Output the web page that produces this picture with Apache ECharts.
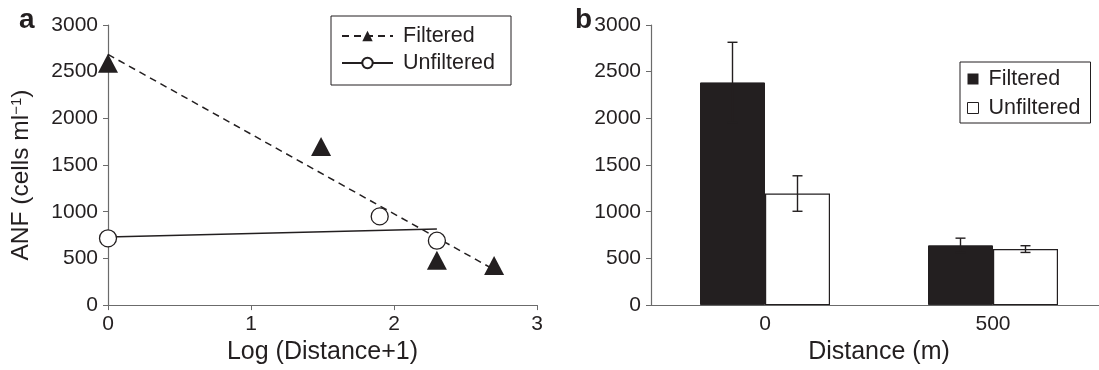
<!DOCTYPE html>
<html>
<head>
<meta charset="utf-8">
<script src="https://cdn.jsdelivr.net/npm/echarts@6/dist/echarts.min.js"></script>
<style>
  html, body { margin: 0; padding: 0; background: #fff; overflow: hidden; }
  /* a bit wider than the window: the right axis runs off the edge, as in the figure */
  #chart { width: 1110px; height: 370px; }
</style>
</head>
<body>
<div id="chart"></div>
<script>
  // panel a: ANF vs log(distance+1)
  const filteredX = [0, 1.49, 2.3, 2.7];
  const filteredY = [2590, 1700, 480, 425];
  const unfilteredX = [0, 1.9, 2.3];
  const unfilteredY = [715, 950, 690];
  // fitted lines, end points
  const filteredTrend = [[0, 2685], [2.7, 380]];
  const unfilteredTrend = [[0, 730], [2.3, 815]];

  // panel b: mean +/- error by distance
  const distances = ['0', '500'];
  const filteredMean = [2385, 640];
  const filteredErr = [430, 77];
  const unfilteredMean = [1195, 600];
  const unfilteredErr = [190, 36];

  const ink = '#231f20';
  const axisGrey = '#6b6b6b';
  const font = '"Liberation Sans", Arial, Helvetica, sans-serif';
  const barWidth = 65;

  const myChart = echarts.init(document.getElementById('chart'));

  function valueAxis(gridIndex, extra) {
    return Object.assign({
      type: 'value',
      gridIndex: gridIndex,
      min: 0,
      max: 3000,
      interval: 500,
      splitLine: { show: false },
      axisLine: { show: true, lineStyle: { color: axisGrey, width: 1.2 } },
      axisTick: { show: true, length: 5, lineStyle: { color: axisGrey } },
      axisLabel: { color: ink, fontSize: 21, fontFamily: font, margin: 10, formatter: v => String(v) }
    }, extra || {});
  }

  // error bars drawn next to each bar
  function errorBars(means, errs, side) {
    return {
      type: 'custom',
      xAxisIndex: 1,
      yAxisIndex: 1,
      z: 5,
      data: means.map((m, i) => [i, m - errs[i], m + errs[i]]),
      renderItem: (params, api) => {
        const lo = api.coord([api.value(0), api.value(1)]);
        const hi = api.coord([api.value(0), api.value(2)]);
        const x = lo[0] + side * barWidth / 2;
        const cap = 5;
        const style = { stroke: ink, lineWidth: 1.4 };
        return {
          type: 'group',
          children: [
            { type: 'line', shape: { x1: x, y1: hi[1], x2: x, y2: lo[1] }, style: style },
            { type: 'line', shape: { x1: x - cap, y1: hi[1], x2: x + cap, y2: hi[1] }, style: style },
            { type: 'line', shape: { x1: x - cap, y1: lo[1], x2: x + cap, y2: lo[1] }, style: style }
          ]
        };
      }
    };
  }

  const option = {
    animation: false,
    textStyle: { fontFamily: font, color: ink },
    title: [
      { text: 'a', left: 14, top: 1, textStyle: { fontSize: 28, fontWeight: 'bold', color: ink, fontFamily: font } },
      { text: 'b', left: 570, top: 1, textStyle: { fontSize: 28, fontWeight: 'bold', color: ink, fontFamily: font } }
    ],
    legend: [
      {
        orient: 'vertical',
        left: 331,
        top: 16,
        padding: [9, 16, 11, 10],
        itemGap: 5,
        itemWidth: 51,
        itemHeight: 13,
        borderColor: ink,
        borderWidth: 1,
        textStyle: { fontSize: 21.5, color: ink, fontFamily: font, padding: [0, 0, 0, 5] },
        data: ['Filtered', 'Unfiltered']
      },
      {
        orient: 'vertical',
        left: 960,
        top: 62,
        padding: [6, 10, 4, 7],
        itemGap: 7,
        itemWidth: 11,
        itemHeight: 11,
        borderColor: ink,
        borderWidth: 1,
        textStyle: { fontSize: 21.5, color: ink, fontFamily: font, padding: [0, 0, 0, 5] },
        data: [
          { name: 'Filtered', icon: 'rect', itemStyle: { color: ink, borderWidth: 0 } },
          { name: 'Unfiltered', icon: 'rect', itemStyle: { color: '#fff', borderColor: ink, borderWidth: 1 } }
        ]
      }
    ],
    grid: [
      { left: 108, top: 25, width: 429, height: 283 },
      { left: 651, top: 25, width: 456, height: 283 }
    ],
    xAxis: [
      {
        type: 'value',
        gridIndex: 0,
        min: 0,
        max: 3,
        interval: 1,
        name: 'Log (Distance+1)',
        nameLocation: 'middle',
        nameGap: 33,
        nameTextStyle: { fontSize: 25, color: ink, fontFamily: font },
        splitLine: { show: false },
        axisLine: { lineStyle: { color: axisGrey, width: 1.2 } },
        axisTick: { length: 5, lineStyle: { color: axisGrey } },
        axisLabel: { color: ink, fontSize: 21, fontFamily: font, margin: 9 }
      },
      {
        type: 'category',
        gridIndex: 1,
        data: distances,
        name: 'Distance (m)',
        nameLocation: 'middle',
        nameGap: 33,
        nameTextStyle: { fontSize: 25, color: ink, fontFamily: font },
        axisLine: { lineStyle: { color: axisGrey, width: 1.2 } },
        axisTick: { length: 5, lineStyle: { color: axisGrey } },
        axisLabel: { color: ink, fontSize: 21, fontFamily: font, margin: 9 }
      }
    ],
    yAxis: [
      valueAxis(0, {
        name: 'ANF (cells ml{sup|−1})',
        nameLocation: 'middle',
        nameRotate: 90,
        nameGap: 74,
        nameTextStyle: {
          fontSize: 24.5,
          color: ink,
          fontFamily: font,
          padding: [0, 20, 0, 0],
          rich: { sup: { fontSize: 15, verticalAlign: 'top', color: ink, fontFamily: font } }
        }
      }),
      valueAxis(1)
    ],
    series: [
      {
        name: 'Filtered',
        type: 'line',
        xAxisIndex: 0,
        yAxisIndex: 0,
        data: filteredTrend,
        symbol: 'triangle',
        showSymbol: false,
        silent: true,
        itemStyle: { color: ink },
        lineStyle: { color: ink, width: 1.5, type: [7, 5] },
        z: 2
      },
      {
        name: 'Unfiltered',
        type: 'line',
        xAxisIndex: 0,
        yAxisIndex: 0,
        data: unfilteredTrend,
        symbol: 'emptyCircle',
        showSymbol: false,
        silent: true,
        itemStyle: { color: ink },
        lineStyle: { color: ink, width: 1.6 },
        z: 2
      },
      {
        name: 'Filtered',
        type: 'scatter',
        xAxisIndex: 0,
        yAxisIndex: 0,
        symbol: 'triangle',
        symbolSize: [20, 19],
        itemStyle: { color: ink, opacity: 1 },
        data: filteredX.map((x, i) => [x, filteredY[i]]),
        z: 3
      },
      {
        name: 'Unfiltered',
        type: 'scatter',
        xAxisIndex: 0,
        yAxisIndex: 0,
        symbol: 'circle',
        symbolSize: 17,
        itemStyle: { color: '#fff', borderColor: ink, borderWidth: 1.3, opacity: 1 },
        data: unfilteredX.map((x, i) => [x, unfilteredY[i]]),
        z: 3
      },
      {
        name: 'Filtered',
        type: 'bar',
        xAxisIndex: 1,
        yAxisIndex: 1,
        barWidth: barWidth,
        barGap: '0%',
        itemStyle: { color: ink, borderColor: ink, borderWidth: 1 },
        data: filteredMean
      },
      {
        name: 'Unfiltered',
        type: 'bar',
        xAxisIndex: 1,
        yAxisIndex: 1,
        barWidth: barWidth,
        barGap: '0%',
        itemStyle: { color: '#fff', borderColor: ink, borderWidth: 1.2 },
        data: unfilteredMean
      },
      errorBars(filteredMean, filteredErr, -1),
      errorBars(unfilteredMean, unfilteredErr, 1)
    ]
  };

  myChart.setOption(option);
  window.addEventListener('resize', () => {
    myChart.resize();
  });
</script>
</body>
</html>
